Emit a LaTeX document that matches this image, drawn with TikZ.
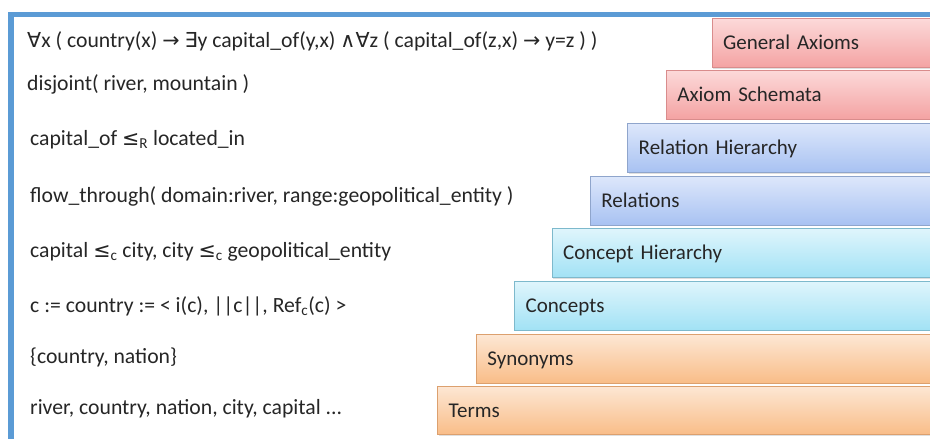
\documentclass[tikz,border=0pt]{standalone}
\usepackage{fontspec}
\setmainfont{Carlito}
\newfontfamily\symfont{DejaVu Sans}[Scale=0.95]
\usetikzlibrary{shadows}

\newcommand{\sym}[1]{{\symfont #1}}

\definecolor{framebl}{HTML}{5B9BD5}
\definecolor{txtgray}{HTML}{262626}
\definecolor{axiomtop}{HTML}{FCD9D9}
\definecolor{axiombot}{HTML}{F4A3A3}
\definecolor{axiomdraw}{HTML}{D98C8C}
\definecolor{reltop}{HTML}{DDE7FB}
\definecolor{relbot}{HTML}{A8C2F2}
\definecolor{reldraw}{HTML}{8FA5CC}
\definecolor{contop}{HTML}{DFF5FC}
\definecolor{conbot}{HTML}{A2E2F5}
\definecolor{condraw}{HTML}{7DB9CC}
\definecolor{termtop}{HTML}{FDE7D4}
\definecolor{termbot}{HTML}{F9BD88}
\definecolor{termdraw}{HTML}{DCA06E}

\begin{document}
\begin{tikzpicture}[x=1pt,y=-1pt,
    every node/.style={font=\fontsize{21}{25}\selectfont, text=txtgray},
    levelbox/.style={draw, line width=0.8pt, anchor=north west, minimum height=48.5pt,
        inner xsep=11pt, inner ysep=0pt, align=left, text height=13.5pt, text depth=0pt,
        drop shadow={opacity=0.25, shadow xshift=1pt, shadow yshift=-1.5pt}},
    axiombox/.style={levelbox, draw=axiomdraw, top color=axiomtop, bottom color=axiombot},
    relbox/.style={levelbox, draw=reldraw, top color=reltop, bottom color=relbot},
    conbox/.style={levelbox, draw=condraw, top color=contop, bottom color=conbot},
    termbox/.style={levelbox, draw=termdraw, top color=termtop, bottom color=termbot},
    formula/.style={anchor=mid west, inner sep=0pt, font=\fontsize{21.7}{26}\selectfont}]

                \useasboundingbox (0,0) rectangle (930,439);
                \fill[white] (0,0) rectangle (930,439);

                \draw[line width=5.5pt, draw=framebl] (10.8,440) -- (10.8,14.5) -- (931,14.5);

                \node[axiombox, text width=206.3pt] (L1) at (711.7,18.3) {General Axioms};
                \node[axiombox, text width=252pt] (L2) at (666,70) {Axiom Schemata};
                \node[relbox, text width=290.7pt] (L3) at (627.3,123.3) {Relation Hierarchy};
                \node[relbox, text width=328pt] (L4) at (590,176) {Relations};
                \node[conbox, text width=366.3pt] (L5) at (551.7,228.3) {Concept Hierarchy};
                \node[conbox, text width=403.7pt] (L6) at (514.3,281) {Concepts};
                \node[termbox, text width=442pt] (L7) at (476,334) {Synonyms};
                \node[termbox, text width=480.7pt] (L8) at (437.3,385.7) {Terms};

                \node[formula] (T1) at (27,45.3) {\sym{∀}x ( country(x) \sym{→} \sym{∃}y capital\_of(y,x) \sym{∧}\sym{∀}z ( capital\_of(z,x) \sym{→} y=z ) )};
                \node[formula] (T2) at (27,88) {disjoint( river, mountain )};
                \node[formula] (T3) at (30,142.7) {capital\_of \sym{≤}\textsubscript{R} located\_in};
                \node[formula] (T4) at (30,200.3) {flow\_through( domain:river, range:geopolitical\_entity )};
                \node[formula] (T5) at (30,255.3) {capital \sym{≤}\textsubscript{c} city, city \sym{≤}\textsubscript{c} geopolitical\_entity};
                \node[formula] (T6) at (30,310) {c := country := < i(c), ||c||, Ref\textsubscript{c}(c) >};
                \node[formula] (T7) at (30,361) {\{country, nation\}};
                \node[formula] (T8) at (30,412) {river, country, nation, city, capital ...};
            \end{tikzpicture}
\end{document}
